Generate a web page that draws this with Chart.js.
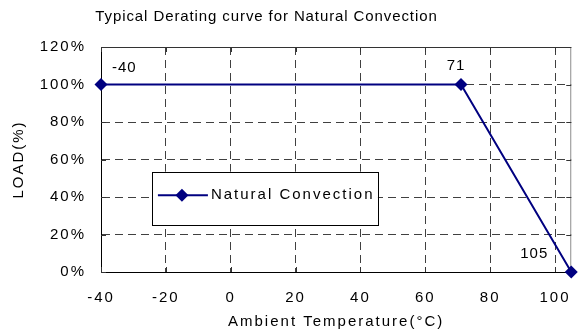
<!DOCTYPE html>
<html>
<head>
<meta charset="utf-8">
<script src="https://cdn.jsdelivr.net/npm/chart.js@4/dist/chart.umd.min.js"></script>
<style>
  html, body { margin: 0; padding: 0; background: #fff; }
  #wrap { width: 588px; height: 333px; position: relative; }
</style>
</head>
<body>
<div id="wrap"><canvas id="c" width="588" height="333"></canvas></div>
<script>
// ---- data ----
const temperatures = [-40, 71, 105];
const loads = [100, 100, 0];
const pointLabels = ['-40', '71', '105'];
const seriesName = 'Natural Convection';
const chartTitle = 'Typical Derating curve for Natural Convection';
const xTitle = 'Ambient Temperature(°C)';
const yTitle = 'LOAD(%)';
const xTicks = [-40, -20, 0, 20, 40, 60, 80, 100];
const yTicks = [0, 20, 40, 60, 80, 100, 120];

// ---- style ----
const NAVY = '#000080';
const FONT = 'Liberation Sans, Arial, sans-serif';
const LABEL_OFFSETS = [[11, -17, 'left'], [-5, -19, 'center'], [-37, -18, 'center']];
const TITLE_SHIFT = -21;

const spacingPlugin = {
  id: 'spacing',
  beforeUpdate(chart) { chart.ctx.letterSpacing = '2px'; },
  beforeDraw(chart) {
    const ctx = chart.ctx;
    ctx.letterSpacing = '2px';
    const tb = chart.titleBlock;
    if (tb && !tb._wrapped) {
      const orig = tb.draw;
      tb.draw = function () {
        ctx.save(); ctx.letterSpacing = '0.9px'; ctx.translate(TITLE_SHIFT, 0);
        orig.apply(this, arguments); ctx.restore();
      };
      tb._wrapped = true;
    }
  }
};

const framePlugin = {
  id: 'frame',
  beforeDatasetsDraw(chart) {
    const {ctx, chartArea: a, scales} = chart;
    ctx.save();
    ctx.setLineDash([]);
    ctx.lineWidth = 1;
    ctx.strokeStyle = '#333';
    ctx.beginPath(); ctx.moveTo(a.left, a.top + 0.5); ctx.lineTo(a.right, a.top + 0.5); ctx.stroke();
    ctx.strokeStyle = '#8c8c8c';
    ctx.beginPath(); ctx.moveTo(a.right - 0.5, a.top); ctx.lineTo(a.right - 0.5, a.bottom); ctx.stroke();
    ctx.strokeStyle = '#333';
    const L = 5;
    xTicks.forEach(v => {
      const x = Math.round(scales.x.getPixelForValue(v)) + 0.5;
      ctx.beginPath(); ctx.moveTo(x, a.bottom); ctx.lineTo(x, a.bottom - L); ctx.stroke();
      ctx.beginPath(); ctx.moveTo(x, a.top); ctx.lineTo(x, a.top + L); ctx.stroke();
    });
    yTicks.forEach(v => {
      const y = Math.round(scales.y.getPixelForValue(v)) + 0.5;
      ctx.beginPath(); ctx.moveTo(a.left, y); ctx.lineTo(a.left + L, y); ctx.stroke();
      ctx.beginPath(); ctx.moveTo(a.right, y); ctx.lineTo(a.right - L, y); ctx.stroke();
    });
    ctx.restore();
  },
  afterDatasetsDraw(chart) {
    const {ctx, scales} = chart;
    const meta = chart.getDatasetMeta(0);
    ctx.save();
    ctx.letterSpacing = '1px';
    ctx.font = '15px ' + FONT;
    ctx.fillStyle = '#000';
    ctx.textBaseline = 'middle';
    meta.data.forEach((pt, i) => {
      const o = LABEL_OFFSETS[i];
      ctx.textAlign = o[2];
      ctx.fillText(pointLabels[i], pt.x + o[0], pt.y + o[1]);
    });
    // legend box inside plot
    const bx = scales.x.getPixelForValue(-24.3), by = scales.y.getPixelForValue(53.5);
    const bw = 226, bh = 53;
    ctx.fillStyle = '#fff';
    ctx.fillRect(bx, by, bw, bh);
    ctx.strokeStyle = '#000';
    ctx.lineWidth = 1;
    ctx.strokeRect(Math.round(bx) + 0.5, Math.round(by) + 0.5, bw, bh);
    const cy = by + 23.5;
    ctx.strokeStyle = NAVY; ctx.lineWidth = 2;
    ctx.beginPath(); ctx.moveTo(bx + 6, cy); ctx.lineTo(bx + 56, cy); ctx.stroke();
    ctx.fillStyle = NAVY;
    const r = 6.5, mx = bx + 30;
    ctx.beginPath(); ctx.moveTo(mx, cy - r); ctx.lineTo(mx + r, cy); ctx.lineTo(mx, cy + r); ctx.lineTo(mx - r, cy); ctx.closePath(); ctx.fill();
    ctx.fillStyle = '#000';
    ctx.textAlign = 'left';
    ctx.letterSpacing = '2px';
    ctx.fillText(seriesName, bx + 59, cy);
    ctx.restore();
  }
};

new Chart(document.getElementById('c'), {
  type: 'line',
  data: {
    datasets: [{
      label: seriesName,
      data: temperatures.map((t, i) => ({x: t, y: loads[i]})),
      borderColor: NAVY,
      backgroundColor: NAVY,
      borderWidth: 2,
      pointStyle: 'rectRot',
      pointRadius: 6.5,
      pointHoverRadius: 6.5,
      pointBorderWidth: 0,
      tension: 0,
      clip: false
    }]
  },
  options: {
    responsive: false,
    animation: false,
    devicePixelRatio: 1,
    layout: { padding: { left: 0, right: 13, top: 0, bottom: 0 } },
    plugins: {
      legend: { display: false },
      tooltip: { enabled: false },
      title: {
        display: true,
        text: chartTitle,
        color: '#000',
        font: { family: FONT, size: 15, weight: 'normal' },
        padding: { top: 8, bottom: 21 }
      }
    },
    scales: {
      x: {
        type: 'linear',
        min: -40, max: 105,
        afterBuildTicks: (s) => { s.ticks = xTicks.map(v => ({value: v})); },
        afterFit: (s) => { s.height = 61; },
        ticks: { color: '#000', font: { family: FONT, size: 15 }, padding: 17, maxRotation: 0, autoSkip: false },
        grid: {
          drawTicks: false,
          color: (c) => (c.tick && c.tick.value === -40) ? 'rgba(0,0,0,0)' : '#404040',
          lineWidth: 1
        },
        border: { display: true, color: '#000', width: 1, dash: [8, 5] },
        title: { display: true, text: xTitle, color: '#000', font: { family: FONT, size: 15 }, padding: { top: 0, bottom: 2 } }
      },
      y: {
        type: 'linear',
        min: 0, max: 120,
        afterBuildTicks: (s) => { s.ticks = yTicks.map(v => ({value: v})); },
        afterFit: (s) => { s.width = 101; },
        ticks: { color: '#000', font: { family: FONT, size: 15 }, padding: 15, callback: (v) => v + '%' },
        grid: {
          drawTicks: false,
          color: (c) => (c.tick && (c.tick.value === 0 || c.tick.value === 120)) ? 'rgba(0,0,0,0)' : '#404040',
          lineWidth: 1
        },
        border: { display: true, color: '#000', width: 1, dash: [8, 5] },
        title: { display: true, text: yTitle, color: '#000', font: { family: FONT, size: 15 }, padding: { top: 10, bottom: 0 } }
      }
    }
  },
  plugins: [spacingPlugin, framePlugin]
});
</script>
</body>
</html>
